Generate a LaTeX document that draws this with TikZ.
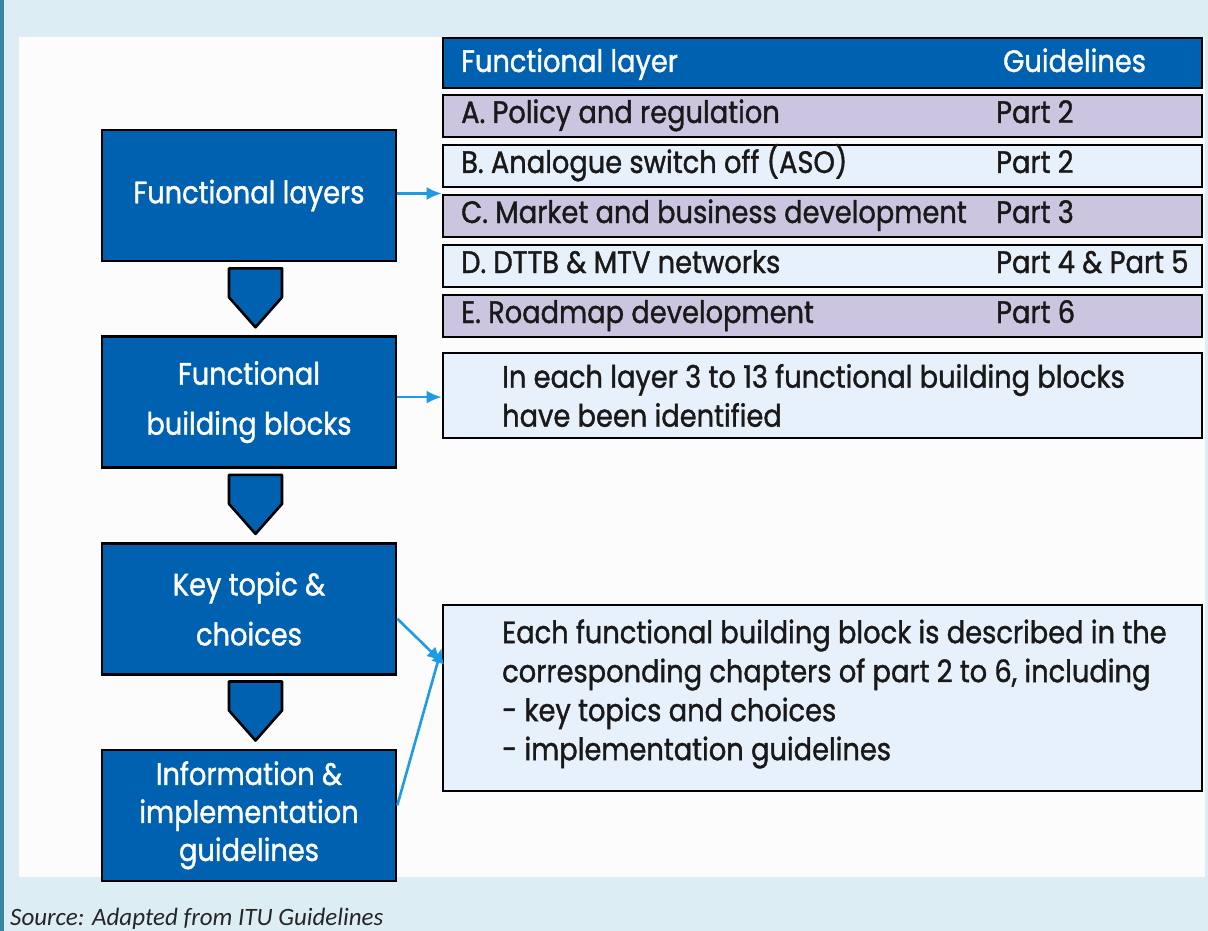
\documentclass[tikz,border=0pt]{standalone}
\usepackage{fontspec}
\setmainfont{Poppins}[FakeStretch=0.88, FakeBold=1.2]
\newfontfamily\srcfont{Carlito}
\usetikzlibrary{arrows.meta,calc,positioning}

\definecolor{pagebg}{HTML}{DCEEF4}
\definecolor{edgeband}{HTML}{3A86A0}
\definecolor{itublue}{HTML}{0061B0}
\definecolor{arrowblue}{HTML}{1E9BE6}
\definecolor{lavrow}{HTML}{CCC5DF}
\definecolor{palerow}{HTML}{E7F1FB}

\begin{document}
\begin{tikzpicture}
[
    x=1pt, y=-1pt,
    flowbox/.style={draw=black, line width=2.6pt, fill=itublue, text=white, minimum width=294pt,
        minimum height=131pt, align=center, font=\fontsize{31}{38}\selectfont},
    chevron/.style={draw=black, line width=2.6pt, fill=itublue, line join=round},
    tablerow/.style={draw=black, line width=2.6pt, minimum width=759pt, minimum height=42pt, inner sep=0pt},
    rowtext/.style={anchor=base west, inner sep=0pt, font=\fontsize{31}{38}\selectfont, text=black!90},
    infobox/.style={draw=black, line width=2.6pt, fill=palerow, minimum width=759pt, inner sep=0pt},
    boxtext/.style={anchor=west, align=left, inner sep=0pt, font=\fontsize{31}{39}\selectfont, text=black!90},
    pointer/.style={draw=arrowblue, line width=2.6pt, -{Latex[length=15pt,width=13pt]}},
]
\useasboundingbox (0,0) rectangle (1208,931);
\fill[pagebg] (0,0) rectangle (1208,931);
\fill[edgeband] (0,0) rectangle (4,931);
\fill[white!99!black] (19,37) rectangle (1205,877);

\node[flowbox] (layers) at (249,195.5) {Functional layers};
\node[flowbox, below=73pt of layers] (blocks) {Functional\\[12pt]building blocks};
\node[flowbox, below=73pt of blocks] (topics) {Key topic \&\\[12pt]choices};
\node[flowbox, below=73pt of topics] (guides) {Information \&\\implementation\\guidelines};

\foreach \a/\b in {layers/blocks, blocks/topics, topics/guides}
    \draw[chevron] ($(\a.south)+(-20,6)$) -- ($(\a.south)+(33,6)$) -- ($(\a.south)+(33,35)$)
        -- ($(\b.north)+(6.5,-8)$) -- ($(\a.south)+(-20,35)$) -- cycle;

\node[tablerow, fill=itublue, minimum height=50pt] (head) at (822.5,63) {};
\node[rowtext, text=white] (headlayer) at (461,72) {Functional layer};
\node[rowtext, text=white] (headguide) at (1003,72) {Guidelines};
\foreach \lay/\part/\shade [count=\i] in {A. Policy and regulation/Part 2/lavrow,
    B. Analogue switch off (ASO)/Part 2/palerow, C. Market and business development/Part 3/lavrow,
    D. DTTB \& MTV networks/Part 4 \& Part 5/palerow, E. Roadmap development/Part 6/lavrow}
{
    \node[tablerow, fill=\shade] (row\i) at (822.5,66+50*\i) {};
    \node[rowtext] (layer\i) at (461,73+50*\i) {\lay};
    \node[rowtext] (part\i) at (996,73+50*\i) {\part};
}

\node[infobox, minimum height=85pt] (ident) at (822.5,395.5) {};
\node[boxtext] (identtext) at (502,395.5)
    {In each layer 3 to 13 functional building blocks\\have been identified};
\node[infobox, minimum height=186pt] (descr) at (822.5,698) {};
\node[boxtext] (descrtext) at (502,694)
    {Each functional building block is described in the\\corresponding chapters of part 2 to 6, including\\- key topics and choices\\- implementation guidelines};

\draw[pointer] ([yshift=2pt]layers.east) -- ([yshift=2pt]layers.east -| row1.west);
\draw[pointer] ([yshift=5pt]blocks.east) -- ([yshift=5pt]blocks.east -| ident.west);
\draw[pointer] ([yshift=-10pt]topics.east) -- ([yshift=36pt]descr.west);
\draw[pointer] ([yshift=10pt]guides.east) -- ([yshift=50pt]descr.west);

\node[anchor=base west, inner sep=0pt, font=\srcfont\itshape\fontsize{25}{30}\selectfont, text=black!85]
    (source) at (10,925) {Source: Adapted from ITU Guidelines};
\end{tikzpicture}
\end{document}
